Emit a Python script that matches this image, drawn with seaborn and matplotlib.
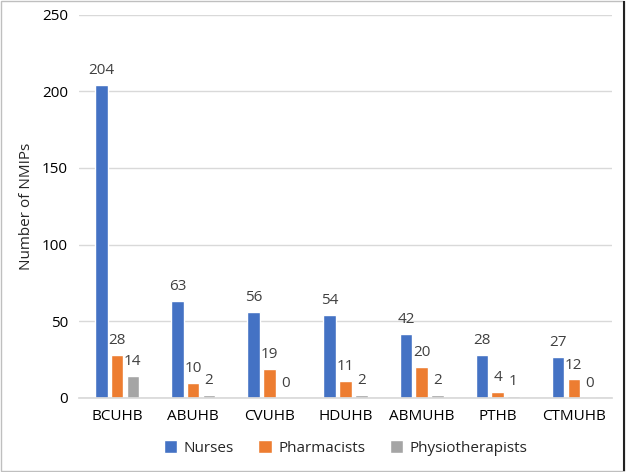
import matplotlib
matplotlib.use("Agg")
import matplotlib.pyplot as plt
import pandas as pd
import seaborn as sns
from matplotlib.patches import Rectangle

# Data
boards = ["BCUHB", "ABUHB", "CVUHB", "HDUHB", "ABMUHB", "PTHB", "CTMUHB"]
nurses = [204, 63, 56, 54, 42, 28, 27]
pharmacists = [28, 10, 19, 11, 20, 4, 12]
physios = [14, 2, 0, 2, 2, 1, 0]
groups = ["Nurses", "Pharmacists", "Physiotherapists"]
colors = ["#4472C4", "#ED7D31", "#A5A5A5"]

df = pd.DataFrame({
    "board": boards * 3,
    "group": [groups[0]] * 7 + [groups[1]] * 7 + [groups[2]] * 7,
    "value": nurses + pharmacists + physios,
})

sns.set_theme(style="white")
plt.rcParams["font.family"] = ["Open Sans", "DejaVu Sans"]

fig = plt.figure(figsize=(6.27, 4.72), dpi=100)
ax = fig.add_axes([0.126, 0.157, 0.85, 0.812])

sns.barplot(data=df, x="board", y="value", hue="group", order=boards,
            hue_order=groups, palette=colors, width=0.62, gap=0.2,
            saturation=1, ax=ax, legend=True)

for cont in ax.containers:
    ax.bar_label(cont, fmt="%d", padding=5, fontsize=11, color="#404040")

ax.set_ylim(0, 250)
ax.set_yticks(range(0, 251, 50))
ax.yaxis.grid(True, color="#D9D9D9", linewidth=1)
ax.set_axisbelow(True)
for s in ["top", "right", "left"]:
    ax.spines[s].set_visible(False)
ax.spines["bottom"].set_color("#D9D9D9")
ax.tick_params(axis="both", length=0, labelsize=11, colors="#000000", pad=8)
ax.set_xlabel("")
ax.set_ylabel("Number of NMIPs", fontsize=11)
ax.yaxis.set_label_coords(-0.085, 0.5)

handles, labels = ax.get_legend_handles_labels()
ax.legend(handles, labels, loc="upper center", bbox_to_anchor=(0.5, -0.075),
          ncol=3, frameon=False, fontsize=11, handlelength=0.9,
          handleheight=0.9, columnspacing=1.6, handletextpad=0.4)

# figure border
fig.patches.append(Rectangle((0.002, 0.003), 0.993, 0.994, transform=fig.transFigure,
                             fill=False, edgecolor="#BFBFBF", linewidth=1))
fig.patches.append(Rectangle((0.995, 0.003), 0.0, 0.994, transform=fig.transFigure,
                             fill=False, edgecolor="#222222", linewidth=1.5))

fig.savefig("out.png", dpi=100)
